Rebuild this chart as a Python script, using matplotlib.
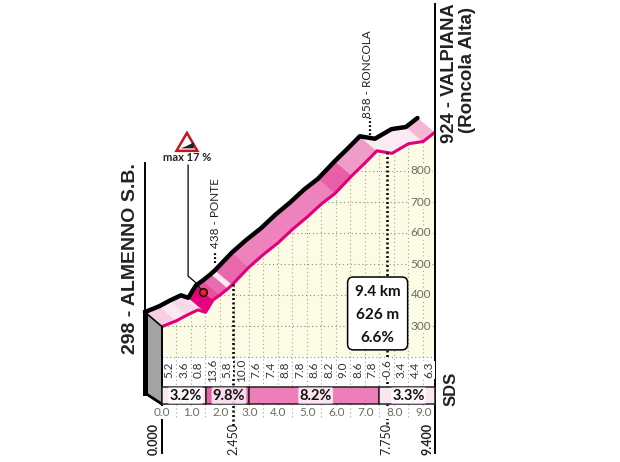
import matplotlib
matplotlib.use("Agg")
import matplotlib.pyplot as plt
from matplotlib.patches import Polygon, Rectangle, FancyBboxPatch
import numpy as np

# profile
km = [0.0, 0.5, 0.86, 1.24, 1.5, 1.76, 2.0, 2.28, 2.42, 3.0, 3.5, 4.0, 4.5, 5.0, 5.5, 5.97, 6.55, 7.0, 7.41, 7.93, 8.5, 9.0, 9.4]
alt = [298, 317, 335, 352, 344, 384, 400, 421, 433, 490, 531, 568, 612, 651, 694, 728, 785, 826, 865, 857, 888, 895, 924]
band_colors = ["#f7cfe3", "#fbe8f2", "#f8d9e8", "#fbe4ef", "#e6007e", "#e94f9f", "#ea6cb0", "#fdeaf4", "#e867ad",
               "#ee82bc", "#ee82bc", "#ee82bc", "#ee82bc", "#ee82bc", "#ee82bc", "#e85fa6", "#f09ccb", "#f09ccb",
               "#f3f0f0", "#fbeaf3", "#fbeaf3", "#f4b6d4"]

slope_km = [0.25, 0.75, 1.25, 1.75, 2.25, 2.75, 3.25, 3.75, 4.25, 4.75, 5.25, 5.75, 6.25, 6.75, 7.25, 7.75, 8.25, 8.75, 9.2]
slope_labels = ["5.2", "3.6", "0.8", "13.6", "5.8", "10.0", "7.6", "7.4", "8.8", "7.8",
                "8.6", "8.2", "9.0", "8.6", "7.8", "-0.6", "3.4", "4.4", "6.3"]

# gradient strip
strip_start = [0.0, 1.52, 3.0, 7.5]
strip_end = [1.52, 3.0, 7.5, 9.4]
strip_values = ["3.2%", "9.8%", "8.2%", "3.3%"]
strip_colors = ["#fbe6f1", "#e562a8", "#ec7fb9", "#fbe6f1"]

km_ticks = [0, 1, 2, 3, 4, 5, 6, 7, 8, 9]
grid_km = [0.5, 1, 1.5, 2, 2.5, 3, 3.5, 4, 4.5, 5, 5.5, 6, 6.5, 7, 7.5, 8, 8.5, 9]
alt_ticks = [300, 400, 500, 600, 700, 800]
key_km = [0.0, 2.45, 7.75, 9.4]
key_labels = ["0.000", "2.450", "7.750", "9.400"]

PINK = "#e2007a"
GREY = "#6b6b60"
CREAM = "#fbfbe6"
NARROW = ["Lato", "Liberation Sans"]
DOTS = (0, (1, 2.5))
HEAVY_DOTS = (0, (0.8, 1))
# shift of the top edge of the ribbon, in km and m
DX, DY = -0.59, 47
STRIP_TOP, STRIP_BOTTOM = 103, 48
LABEL_TOP = 200
TICK_BOTTOM = 5

fig = plt.figure(figsize=(6.2, 4.62), dpi=100)
ax = fig.add_axes([0, 0, 1, 1])
ax.set_xlim(-162 / 29, (620 - 162) / 29)
ax.set_ylim(300 - 136 / 0.31, 300 + 326 / 0.31)
ax.axis("off")

km_a = np.array(km)
alt_a = np.array(alt)

# background under the profile
ax.add_patch(Polygon(list(zip(km, alt)) + [(9.4, LABEL_TOP), (0, LABEL_TOP)], fc=CREAM, ec="none", zorder=1))

# grid
for x in grid_km:
    y = np.interp(x, km, alt)
    ax.plot([x, x], [y, STRIP_TOP], color="#a5a58c", lw=0.8, ls=DOTS, zorder=2)
    ax.plot([x, x], [STRIP_BOTTOM, TICK_BOTTOM], color="#a5a58c", lw=0.8, ls=DOTS, zorder=2)
for y in [200] + alt_ticks:
    x_end = np.interp(y, alt[:5] + alt[6:], km[:5] + km[6:]) if y > 298 else 0
    ax.plot([x_end, 9.4], [y, y], color="#8f8f78", lw=0.8, ls=DOTS, zorder=2)

# ribbon
for i in range(len(km) - 1):
    quad = [(km[i], alt[i]), (km[i + 1], alt[i + 1]),
            (km[i + 1] + DX, alt[i + 1] + DY), (km[i] + DX, alt[i] + DY)]
    ax.add_patch(Polygon(quad, fc=band_colors[i], ec=band_colors[i], lw=0.3, zorder=3))
ax.plot(km_a, alt_a, color=PINK, lw=2.2, zorder=4, solid_capstyle="round")
ax.plot(km_a + DX, alt_a + DY, color="black", lw=3.2, zorder=5, solid_capstyle="round")

# left wall
wall = [(0, 298), (DX, 298 + DY), (DX, STRIP_BOTTOM + 36), (0, STRIP_BOTTOM)]
ax.add_patch(Polygon(wall, fc="#a3a3a6", ec="none", zorder=4))
ax.plot([DX, DX], [298 + DY, STRIP_BOTTOM + 36], color="black", lw=3.6, zorder=5)
ax.plot([DX, 0], [STRIP_BOTTOM + 36, STRIP_BOTTOM], color="black", lw=2, zorder=5)
ax.plot([DX, 0], [298 + DY, 298], color="black", lw=1.2, zorder=5)

# axis lines
ax.plot([0, 0], [298, -110], color="black", lw=1.4, zorder=6)
ax.plot([9.4, 9.4], [1338, -110], color="black", lw=1.4, zorder=6)
ax.plot([DX, DX], [298 + DY, 826], color="black", lw=1.4, zorder=5)

# heavy dots at the two named points
ax.plot([2.45, 2.45], [436, -25], color="black", lw=1.8, ls=HEAVY_DOTS, zorder=6.5)
ax.plot([7.75, 7.75], [860, STRIP_BOTTOM], color="black", lw=1.8, ls=HEAVY_DOTS, zorder=5.5)
ax.plot([7.75, 7.75], [STRIP_BOTTOM, -25], color="black", lw=1.8, ls=HEAVY_DOTS, zorder=5.5)

# slope labels
for x, s in zip(slope_km, slope_labels):
    ax.text(x, 158, s, rotation=90, ha="center", va="center", fontsize=8.5, family=NARROW,
            color="#333333", zorder=7, bbox=dict(fc="white", ec="none", pad=0.4))

# gradient strip
for x0, x1, s, c in zip(strip_start, strip_end, strip_values, strip_colors):
    ax.add_patch(Rectangle((x0, STRIP_BOTTOM), x1 - x0, STRIP_TOP - STRIP_BOTTOM, fc=c, ec="#222222", lw=1.1, zorder=6))
    ax.text((x0 + x1) / 2 + 0.05, (STRIP_TOP + STRIP_BOTTOM) / 2, s, ha="center", va="center", fontsize=10.5,
            family=NARROW, fontweight="bold", color="#111111", zorder=7,
            bbox=dict(boxstyle="round,pad=0.08", fc="white", ec="none", alpha=0.8))

# km ticks
for k in km_ticks:
    ax.text(k + 0.01, 20, "%.1f" % k, ha="center", va="center", fontsize=8.5, family=NARROW, color=GREY, zorder=7,
            bbox=dict(fc="white", ec="none", pad=0.6))

# altitude ticks
for a in alt_ticks:
    ax.text(8.92, a, str(a), ha="center", va="center", fontsize=8.5, family=NARROW, color=GREY, zorder=3,
            bbox=dict(fc=CREAM, ec="none", pad=0.8))

# key points under the strip
for x, s in zip(key_km, key_labels):
    shift = {0.0: -0.3, 9.4: -0.24}.get(x, 0)
    ax.text(x + shift, -64, s, rotation=90, ha="center", va="center", fontsize=9, family=NARROW,
            fontweight="bold" if x in (0.0, 9.4) else "normal", color="#222222", zorder=7)

# summit labels
ax.text(-1.1, 519, "298 - ALMENNO S.B.", rotation=90, ha="center", va="center", fontsize=14,
        family="Liberation Sans", fontweight="bold", color="#222222")
ax.text(9.9, 890, "924 - VALPIANA", rotation=90, ha="center", va="bottom", fontsize=13.2,
        family="Liberation Sans", fontweight="bold", color="#222222")
ax.text(10.52, 922, "(Roncola Alta)", rotation=90, ha="center", va="bottom", fontsize=13.5,
        family="Liberation Sans", fontweight="bold", color="#222222")
ax.text(1.83, 664, "438 - PONTE", rotation=90, ha="center", va="center", fontsize=8.5, family=NARROW, color="#222222")
ax.text(7.07, 1113, "858 - RONCOLA", rotation=90, ha="center", va="center", fontsize=8.5, family=NARROW, color="#222222")
ax.plot([1.83, 1.83], [503, 540], color="black", lw=1.6, ls=HEAVY_DOTS, zorder=3)
ax.plot([7.16, 7.16], [915, 972], color="black", lw=1.6, ls=HEAVY_DOTS, zorder=3)

# max gradient sign
ax.add_patch(Polygon([(0.5, 865), (1.22, 865), (0.86, 923)], fc="white", ec="#c8141c", lw=1.8, joinstyle="miter", zorder=6))
ax.add_patch(Polygon([(0.64, 873), (1.1, 873), (1.1, 893), (0.86, 881)], fc="#222222", ec="none", zorder=7))
ax.text(0.86, 842, "max 17 %", ha="center", va="center", fontsize=8, family=NARROW, fontweight="bold", color="#222222")
ax.plot([0.9, 0.9, 1.14, 1.41], [819, 461, 442, 410], color="black", lw=0.9, zorder=8)
ax.plot([1.41], [410], "o", ms=5.5, mfc="#e8242a", mec="black", mew=1, zorder=8)

# summary box
box = FancyBboxPatch((6.4, 223), 2.07, 235, boxstyle="round,pad=0,rounding_size=0.2", mutation_aspect=29 / 0.31,
                     fc="white", ec="black", lw=1.1, zorder=7)
ax.add_patch(box)
for y, s in zip([410, 335, 261], ["9.4 km", "626 m", "6.6%"]):
    ax.text(7.43, y, s, ha="center", va="center", fontsize=11, family=NARROW, fontweight="bold", color="#111111", zorder=8)

# logo
ax.text(9.95, 97, "SDS", rotation=90, ha="center", va="center", fontsize=12, family="Liberation Sans",
        fontweight="bold", color="#222222")

fig.savefig("out.png", dpi=100)
